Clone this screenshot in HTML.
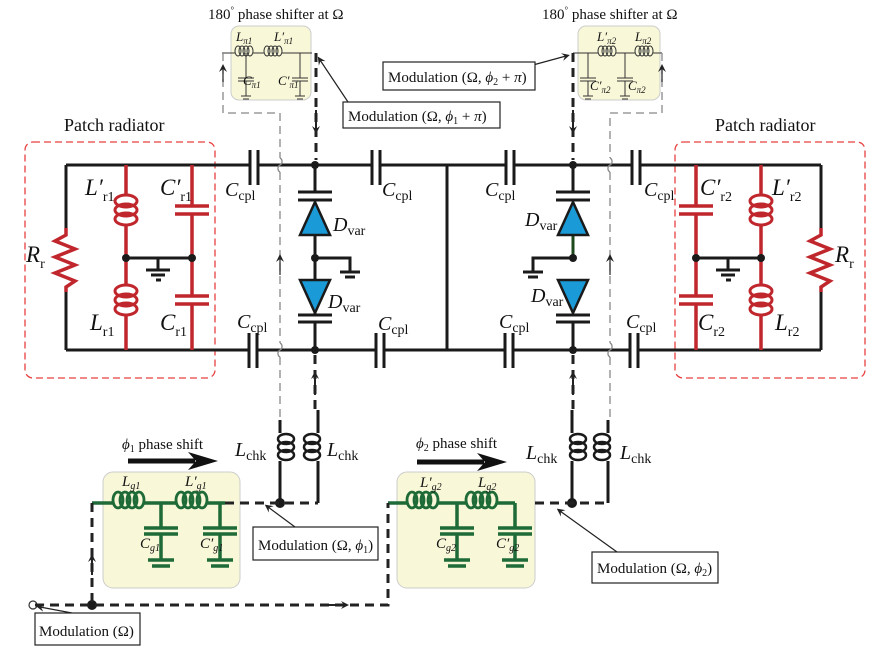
<!DOCTYPE html>
<html><head><meta charset="utf-8"><style>
html,body{margin:0;padding:0;background:#fff}
svg{display:block}
text{font-family:"Liberation Serif",serif;fill:#111}
.L{font-style:italic;font-size:23px}
.s{font-size:14px;font-style:normal}
.m{font-size:15px}
</style></head><body>
<svg width="883" height="654" viewBox="0 0 883 654" xmlns="http://www.w3.org/2000/svg">
<defs>
<marker id="ah" markerWidth="8" markerHeight="8" refX="4" refY="4" orient="auto" markerUnits="userSpaceOnUse"><path d="M0,0 L8,4 L0,8 L3,4z" fill="#222"/></marker>
<g id="vcr"><ellipse cx="0" cy="6" rx="11" ry="6"/><ellipse cx="0" cy="15" rx="11" ry="6"/><ellipse cx="0" cy="24" rx="11" ry="6"/></g>
<g id="vck"><ellipse cx="0" cy="6" rx="8" ry="5"/><ellipse cx="0" cy="14" rx="8" ry="5"/><ellipse cx="0" cy="22" rx="8" ry="5"/></g>
<g id="hcg"><ellipse cx="5" cy="0" rx="5" ry="8"/><ellipse cx="12" cy="0" rx="5" ry="8"/><ellipse cx="19" cy="0" rx="5" ry="8"/><ellipse cx="26" cy="0" rx="5" ry="8"/></g>
<g id="hcp"><ellipse cx="3" cy="0" rx="3" ry="5"/><ellipse cx="7" cy="0" rx="3" ry="5"/><ellipse cx="11" cy="0" rx="3" ry="5"/><ellipse cx="15" cy="0" rx="3" ry="5"/></g>
</defs>
<rect x="231" y="26" width="80" height="74" rx="8" fill="#f8f7d8" stroke="#ccc"/>
<rect x="578" y="26" width="82" height="74" rx="8" fill="#f8f7d8" stroke="#ccc"/>
<rect x="103" y="472" width="137" height="116" rx="10" fill="#f8f7d8" stroke="#ccc"/>
<rect x="397" y="472" width="138" height="116" rx="10" fill="#f8f7d8" stroke="#ccc"/>
<rect x="25" y="142" width="190" height="236" rx="8" fill="none" stroke="#e84040" stroke-width="1.3" stroke-dasharray="7,4"/>
<rect x="675" y="142" width="190" height="236" rx="8" fill="none" stroke="#e84040" stroke-width="1.3" stroke-dasharray="7,4"/>

<g stroke="#1a1a1a" stroke-width="3" fill="none">
<path d="M66,165 H250 M258,165 H372 M380,165 H447 V350 M66,350 H249 M257,350 H376 M384,350 H447"/>
<path d="M447,165 H506 M514,165 H632 M640,165 H821 M447,350 H505 M513,350 H630 M638,350 H821"/>
<path d="M66,165 V228 M66,292 V350 M821,165 V228 M821,292 V350"/>
<path d="M250,150 V185 M258,150 V185 M372,150 V185 M380,150 V185 M249,333 V368 M257,333 V368 M376,333 V368 M384,333 V368"/>
<path d="M506,150 V185 M514,150 V185 M632,150 V185 M640,150 V185 M505,333 V368 M513,333 V368 M630,333 V368 M638,333 V368"/>
<path d="M315,165 V192 M298,192 H332 M298,200 H332 M315,235 V280 M315,258 H350 V272 M340,272 H360 M345,277 H355 M315,310 V315 M298,315 H332 M298,322 H332 M315,322 V350"/>
<path d="M573,165 V192 M556,192 H590 M556,200 H590 M573,280 V310 M556,315 H590 M556,322 H590 M573,322 V350 M573,258 H533 V272 M523,272 H543 M528,277 H538"/>
<path d="M280,420 V433 M280,461 V503 M318,410 V433 M318,461 V503 M572,410 V433 M572,461 V503 M608,420 V433 M608,461 V503"/>
</g>
<path d="M573,235 V258" stroke="#1d4a1d" stroke-width="3"/>
<g fill="#1a9ad6" stroke="#1a1a1a" stroke-width="2.5">
<path d="M315,202 L300,235 H330z"/><path d="M315,313 L300,280 H330z"/>
<path d="M573,202 L558,235 H588z"/><path d="M573,313 L558,280 H588z"/>
</g>
<g stroke="#1a1a1a" stroke-width="2.5" fill="none">
<use href="#vck" x="286" y="433"/><use href="#vck" x="312" y="433"/><use href="#vck" x="578" y="433"/><use href="#vck" x="602" y="433"/>
</g>
<g stroke="#c0272d" stroke-width="3.5" fill="none">
<path d="M66,228 V235 L55,241 L75,249 L55,257 L75,265 L55,273 L75,281 L66,287 V292"/>
<path d="M821,228 V235 L810,241 L830,249 L810,257 L830,265 L810,273 L830,281 L821,287 V292"/>
<path d="M126,165 V195 M126,225 V285 M126,315 V350 M192,165 V206 M192,214 V296 M192,304 V350 M175,206 H209 M175,214 H209 M175,296 H209 M175,304 H209"/>
<path d="M761,165 V195 M761,225 V285 M761,315 V350 M696,165 V206 M696,214 V296 M696,304 V350 M679,206 H713 M679,214 H713 M679,296 H713 M679,304 H713"/>
<g stroke-width="3"><use href="#vcr" x="126" y="195"/><use href="#vcr" x="126" y="285"/><use href="#vcr" x="761" y="195"/><use href="#vcr" x="761" y="285"/></g>
</g>
<g stroke="#1a1a1a" stroke-width="3" fill="none">
<path d="M126,258 H192 M158,258 V270 M146,270 H170 M151,275 H165 M156,280 H161"/>
<path d="M696,258 H761 M728,258 V270 M716,270 H740 M721,275 H735 M726,280 H731"/>
</g>
<g fill="#1a1a1a">
<circle cx="126" cy="258" r="4"/><circle cx="192" cy="258" r="4"/><circle cx="696" cy="258" r="4"/><circle cx="761" cy="258" r="4"/>
<circle cx="315" cy="165" r="4"/><circle cx="315" cy="258" r="4"/><circle cx="315" cy="350" r="4"/>
<circle cx="573" cy="165" r="4"/><circle cx="573" cy="258" r="4"/><circle cx="573" cy="350" r="4"/>
<circle cx="280" cy="503" r="5"/><circle cx="572" cy="503" r="5"/><circle cx="92" cy="605" r="5"/>
</g>
<circle cx="33" cy="605" r="4" fill="#fff" stroke="#333" stroke-width="1.2"/>
<g stroke="#1e6b38" stroke-width="3.5" fill="none">
<path d="M92,503 H113 M144,503 H176 M207,503 H225 M161,503 V528 M144,528 H178 M144,534 H178 M161,534 V560 M148,560 H174 M152,566 H170 M220,503 V528 M203,528 H237 M203,534 H237 M220,534 V560 M207,560 H233 M211,566 H229"/>
<path d="M388,503 H407 M438,503 H466 M497,503 H515 M457,503 V528 M440,528 H474 M440,534 H474 M457,534 V560 M444,560 H470 M448,566 H466 M515,503 V528 M498,528 H532 M498,534 H532 M515,534 V560 M502,560 H528 M506,566 H524"/>
<g stroke-width="2.8"><use href="#hcg" x="113" y="500"/><use href="#hcg" x="176" y="500"/><use href="#hcg" x="407" y="500"/><use href="#hcg" x="466" y="500"/></g>
</g>
<g stroke="#333" stroke-width="1" fill="none">
<path d="M222,53 H235 M253,53 H264 M282,53 H312 M246,53 V78 M238,78 H254 M238,81 H254 M246,81 V96 M241,96 H251 M243,99 H249 M300,53 V78 M292,78 H308 M292,81 H308 M300,81 V96 M295,96 H305 M297,99 H303"/>
<path d="M573,53 H598 M616,53 H635 M653,53 H662 M588,53 V78 M580,78 H596 M580,81 H596 M588,81 V96 M583,96 H593 M585,99 H591 M625,53 V78 M617,78 H633 M617,81 H633 M625,81 V96 M620,96 H630 M622,99 H628"/>
<use href="#hcp" x="235" y="51"/><use href="#hcp" x="264" y="51"/><use href="#hcp" x="598" y="51"/><use href="#hcp" x="635" y="51"/>
</g>
<g stroke="#888" stroke-width="1.3" fill="none" stroke-dasharray="8,5">
<path d="M223,53 V113 H280 V158 M280,172 V343 M280,357 V420"/>
<path d="M662,53 V113 H610 V158 M610,172 V343 M610,357 V420"/>
</g>
<g stroke="#888" stroke-width="1.3" fill="none">
<path d="M280,158 a4,4 0 0 1 0,7 a4,4 0 0 0 0,7 M280,343 a4,4 0 0 1 0,7 a4,4 0 0 0 0,7 M610,158 a4,4 0 0 1 0,7 a4,4 0 0 0 0,7 M610,343 a4,4 0 0 1 0,7 a4,4 0 0 0 0,7"/>
</g>
<g stroke="#333" stroke-width="1.3"><path d="M280,275 V258" marker-end="url(#ah)"/><path d="M610,275 V258" marker-end="url(#ah)"/><path d="M223,82 V68" marker-end="url(#ah)"/><path d="M662,82 V68" marker-end="url(#ah)"/></g>
<g stroke="#222" stroke-width="3" fill="none" stroke-dasharray="9,6">
<path d="M316,53 V160"/><path d="M573,53 V160"/>
<path d="M315,355 V410"/><path d="M573,355 V410"/>
<path d="M225,503 H280 H318"/><path d="M535,503 H572 H608"/>
<path d="M92,503 V605 M35,605 H388 V503"/>
</g>
<g stroke="#222" stroke-width="2"><path d="M316,110 V130" marker-end="url(#ah)"/><path d="M573,110 V130" marker-end="url(#ah)"/>
<path d="M315,395 V375" marker-end="url(#ah)"/><path d="M573,395 V375" marker-end="url(#ah)"/>
<path d="M92,575 V558" marker-end="url(#ah)"/><path d="M320,605 H345" marker-end="url(#ah)"/></g>
<path d="M128,461 H195" stroke="#111" stroke-width="5"/><path d="M188,452 L218,461 L188,470 L196,461z" fill="#111"/>
<path d="M417,462 H484" stroke="#111" stroke-width="5"/><path d="M477,453 L507,462 L477,471 L485,462z" fill="#111"/>
<g stroke="#222" stroke-width="1.2"><path d="M295,527 L268,507" marker-end="url(#ah)"/><path d="M617,552 L560,511" marker-end="url(#ah)"/><path d="M72,613 L40,607" marker-end="url(#ah)"/><path d="M348,102 L320,60" marker-end="url(#ah)"/><path d="M533,65 L566,56" marker-end="url(#ah)"/></g>
<g fill="#fff" stroke="#222" stroke-width="1.2">
<rect x="253" y="527" width="125" height="33"/><rect x="592" y="552" width="126" height="31"/><rect x="35" y="613" width="105" height="32"/>
<rect x="343" y="102" width="157" height="26"/><rect x="383" y="62" width="152" height="28"/>
</g>
<text class="m" x="258" y="550">Modulation (Ω, <tspan font-style="italic">ϕ</tspan><tspan font-size="10" dy="3">1</tspan><tspan dy="-3">)</tspan></text>
<text class="m" x="597" y="573">Modulation (Ω, <tspan font-style="italic">ϕ</tspan><tspan font-size="10" dy="3">2</tspan><tspan dy="-3">)</tspan></text>
<text class="m" x="39" y="636">Modulation (Ω)</text>
<text class="m" x="348" y="121">Modulation (Ω, <tspan font-style="italic">ϕ</tspan><tspan font-size="10" dy="3">1</tspan><tspan dy="-3"> + </tspan><tspan font-style="italic">π</tspan>)</text>
<text class="m" x="388" y="82">Modulation (Ω, <tspan font-style="italic">ϕ</tspan><tspan font-size="10" dy="3">2</tspan><tspan dy="-3"> + </tspan><tspan font-style="italic">π</tspan>)</text>
<text class="m" x="208" y="19">180<tspan font-size="9" dy="-6">°</tspan><tspan dy="6"> phase shifter at Ω</tspan></text>
<text class="m" x="542" y="19">180<tspan font-size="9" dy="-6">°</tspan><tspan dy="6"> phase shifter at Ω</tspan></text>
<text x="64" y="131" font-size="18">Patch radiator</text>
<text x="715" y="131" font-size="18">Patch radiator</text>
<text class="m" x="122" y="449"><tspan font-style="italic">ϕ</tspan><tspan font-size="10" dy="3">1</tspan><tspan dy="-3"> phase shift</tspan></text>
<text class="m" x="416" y="448"><tspan font-style="italic">ϕ</tspan><tspan font-size="10" dy="3">2</tspan><tspan dy="-3"> phase shift</tspan></text>
<g class="L">
<text x="85" y="195">L′<tspan class="s" dy="6">r1</tspan></text>
<text x="160" y="195">C′<tspan class="s" dy="6">r1</tspan></text>
<text x="90" y="330">L<tspan class="s" dy="6">r1</tspan></text>
<text x="160" y="330">C<tspan class="s" dy="6">r1</tspan></text>
<text x="26" y="262">R<tspan class="s" dy="6">r</tspan></text>
<text x="835" y="262">R<tspan class="s" dy="6">r</tspan></text>
<text x="700" y="195">C′<tspan class="s" dy="6">r2</tspan></text>
<text x="772" y="195">L′<tspan class="s" dy="6">r2</tspan></text>
<text x="698" y="330">C<tspan class="s" dy="6">r2</tspan></text>
<text x="775" y="330">L<tspan class="s" dy="6">r2</tspan></text>
<text x="225" y="196" font-size="20">C<tspan class="s" dy="4">cpl</tspan></text>
<text x="382" y="196" font-size="20">C<tspan class="s" dy="4">cpl</tspan></text>
<text x="237" y="328" font-size="20">C<tspan class="s" dy="4">cpl</tspan></text>
<text x="378" y="330" font-size="20">C<tspan class="s" dy="4">cpl</tspan></text>
<text x="485" y="196" font-size="20">C<tspan class="s" dy="4">cpl</tspan></text>
<text x="644" y="196" font-size="20">C<tspan class="s" dy="4">cpl</tspan></text>
<text x="499" y="328" font-size="20">C<tspan class="s" dy="4">cpl</tspan></text>
<text x="626" y="328" font-size="20">C<tspan class="s" dy="4">cpl</tspan></text>
<text x="333" y="231" font-size="20">D<tspan class="s" dy="4">var</tspan></text>
<text x="328" y="308" font-size="20">D<tspan class="s" dy="4">var</tspan></text>
<text x="525" y="226" font-size="20">D<tspan class="s" dy="4">var</tspan></text>
<text x="531" y="302" font-size="20">D<tspan class="s" dy="4">var</tspan></text>
<text x="235" y="456" font-size="20">L<tspan class="s" dy="4">chk</tspan></text>
<text x="327" y="456" font-size="20">L<tspan class="s" dy="4">chk</tspan></text>
<text x="526" y="459" font-size="20">L<tspan class="s" dy="4">chk</tspan></text>
<text x="620" y="459" font-size="20">L<tspan class="s" dy="4">chk</tspan></text>
<text x="122" y="486" font-size="15">L<tspan font-size="10" dy="3">g1</tspan></text>
<text x="185" y="486" font-size="15">L′<tspan font-size="10" dy="3">g1</tspan></text>
<text x="140" y="548" font-size="15">C<tspan font-size="10" dy="3">g1</tspan></text>
<text x="200" y="548" font-size="15">C′<tspan font-size="10" dy="3">g1</tspan></text>
<text x="420" y="487" font-size="15">L′<tspan font-size="10" dy="3">g2</tspan></text>
<text x="478" y="487" font-size="15">L<tspan font-size="10" dy="3">g2</tspan></text>
<text x="436" y="548" font-size="15">C<tspan font-size="10" dy="3">g2</tspan></text>
<text x="496" y="548" font-size="15">C′<tspan font-size="10" dy="3">g2</tspan></text>
<text x="236" y="41" font-size="13">L<tspan font-size="9" dy="3">π1</tspan></text>
<text x="274" y="41" font-size="13">L′<tspan font-size="9" dy="3">π1</tspan></text>
<text x="243" y="85" font-size="13">C<tspan font-size="9" dy="3">π1</tspan></text>
<text x="278" y="85" font-size="13">C′<tspan font-size="9" dy="3">π1</tspan></text>
<text x="597" y="41" font-size="13">L′<tspan font-size="9" dy="3">π2</tspan></text>
<text x="635" y="41" font-size="13">L<tspan font-size="9" dy="3">π2</tspan></text>
<text x="590" y="90" font-size="13">C′<tspan font-size="9" dy="3">π2</tspan></text>
<text x="628" y="90" font-size="13">C<tspan font-size="9" dy="3">π2</tspan></text>
</g>
</svg>
</body></html>
